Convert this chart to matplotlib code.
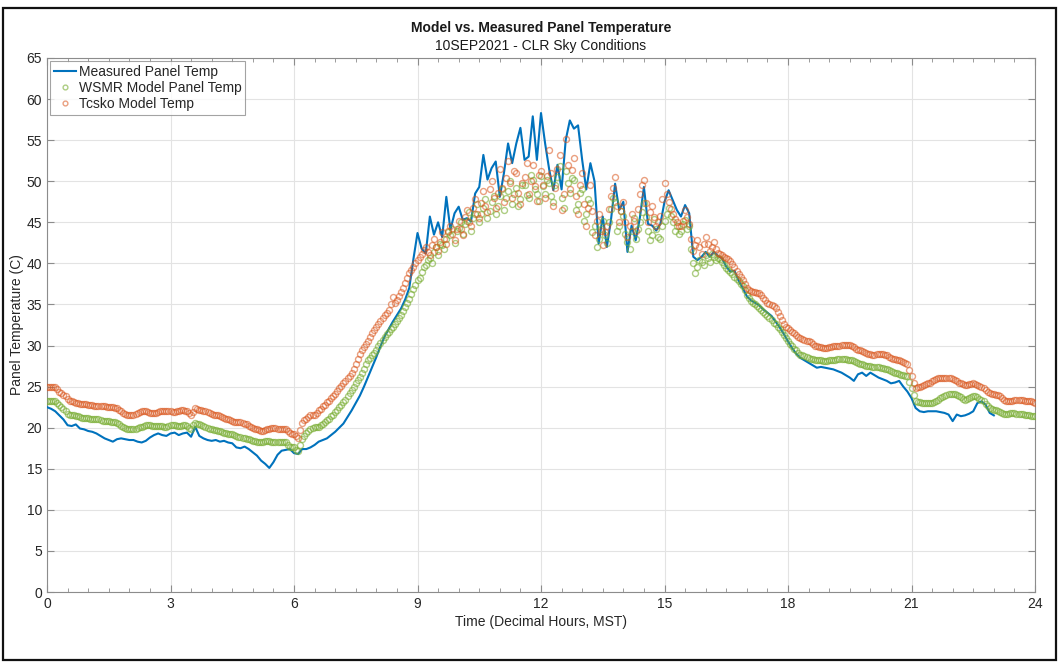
import numpy as np
import matplotlib
matplotlib.use("Agg")
import matplotlib.pyplot as plt
from matplotlib.patches import Rectangle
from matplotlib.ticker import MultipleLocator

plt.rcParams['font.family'] = ['Liberation Sans', 'DejaVu Sans']

# Measured panel temperature, one sample every 0.1 h from 0.0 to 23.0 h
measured_temp = [
    22.5, 22.3, 22.0, 21.5, 21.0, 20.3, 20.2, 20.4, 19.9, 19.8,
    19.6, 19.5, 19.3, 19.0, 18.7, 18.5, 18.3, 18.6, 18.7, 18.6,
    18.5, 18.5, 18.3, 18.2, 18.4, 18.8, 19.1, 19.3, 19.1, 19.0,
    19.3, 19.4, 19.1, 19.3, 19.4, 18.9, 20.1, 19.0, 18.7, 18.5,
    18.4, 18.5, 18.3, 18.4, 18.2, 18.1, 17.6, 17.5, 17.7, 17.4,
    17.0, 16.6, 16.0, 15.6, 15.1, 15.8, 16.7, 17.2, 17.3, 17.4,
    16.9, 16.8, 17.4, 17.4, 17.6, 17.9, 18.3, 18.5, 18.7, 19.1,
    19.5, 20.0, 20.5, 21.3, 22.1, 23.0, 23.9, 25.0, 26.2, 27.4,
    28.6, 29.9, 31.1, 32.0, 32.9, 33.7, 34.5, 35.6, 37.0, 40.5,
    43.7, 41.8, 41.2, 45.7, 43.5, 45.0, 43.2, 48.1, 44.1, 46.1,
    46.9, 45.3, 45.5, 45.1, 48.5, 49.3, 53.2, 50.2, 51.6, 52.4,
    48.1, 51.0, 54.6, 52.2, 54.6, 56.5, 52.6, 53.0, 57.9, 52.6,
    58.3, 54.6, 51.4, 48.9, 52.0, 49.0, 55.0, 57.4, 56.4, 56.8,
    52.6, 49.0, 52.2, 50.0, 42.4, 45.7, 42.0, 45.3, 49.7, 46.5,
    47.5, 41.4, 44.6, 42.8, 45.5, 49.3, 44.8, 44.6, 44.0, 44.8,
    47.5, 48.9, 47.7, 46.5, 45.7, 47.1, 46.1, 40.8, 40.4, 40.8,
    41.4, 40.8, 41.4, 40.9, 40.6, 39.6, 39.0, 39.1, 37.9, 37.0,
    36.0, 35.5, 35.2, 34.9, 34.4, 34.0, 33.6, 32.9, 32.2, 31.4,
    30.5, 29.7, 29.0, 28.5, 28.2, 27.9, 27.6, 27.3, 27.4, 27.3,
    27.2, 27.1, 26.9, 26.7, 26.4, 26.1, 25.7, 26.5, 26.7, 26.3,
    26.7, 26.4, 26.1, 25.9, 25.7, 25.4, 25.5, 25.7, 25.0, 24.4,
    23.6, 22.4, 22.0, 21.9, 22.0, 22.0, 22.0, 21.9, 21.8, 21.6,
    20.8, 21.6, 21.4, 21.5, 21.7, 22.0, 23.0, 23.2, 22.8, 21.8,
    21.5,
]

# WSMR model panel temperature, one sample every 0.05 h from 0.0 to 24.0 h
wsmr_temp = [
    23.3, 23.3, 23.3, 23.3, 23.2, 23.0, 22.8, 22.5, 22.3, 22.0, 21.7, 21.6, 21.5, 21.5, 21.4, 21.4, 21.3, 21.2, 21.2, 21.2,
    21.2, 21.1, 21.1, 21.0, 21.0, 21.0, 20.9, 20.8, 20.8, 20.8, 20.8, 20.7, 20.7, 20.7, 20.6, 20.4, 20.2, 20.1, 20.0, 19.9,
    19.8, 19.8, 19.9, 19.9, 20.0, 20.1, 20.1, 20.2, 20.3, 20.3, 20.3, 20.2, 20.2, 20.2, 20.2, 20.2, 20.2, 20.1, 20.1, 20.2,
    20.3, 20.3, 20.3, 20.2, 20.2, 20.2, 20.3, 20.3, 20.2, 20.0, 19.9, 20.3, 20.6, 20.5, 20.4, 20.3, 20.2, 20.1, 20.0, 19.9,
    19.8, 19.7, 19.7, 19.6, 19.6, 19.5, 19.4, 19.3, 19.2, 19.2, 19.2, 19.1, 19.0, 18.9, 18.9, 18.8, 18.7, 18.6, 18.6, 18.5,
    18.4, 18.4, 18.3, 18.3, 18.3, 18.3, 18.4, 18.4, 18.4, 18.3, 18.3, 18.3, 18.3, 18.2, 18.2, 18.2, 18.2, 17.9, 17.6, 17.6,
    17.6, 17.3, 17.2, 17.9, 18.6, 19.0, 19.3, 19.6, 19.9, 20.0, 20.1, 20.1, 20.1, 20.3, 20.5, 20.7, 20.9, 21.1, 21.4, 21.6,
    21.9, 22.2, 22.5, 22.8, 23.1, 23.4, 23.8, 24.2, 24.6, 25.0, 25.4, 25.8, 26.2, 26.7, 27.2, 27.7, 28.2, 28.5, 28.8, 29.1,
    29.4, 29.9, 30.3, 30.7, 31.1, 31.4, 31.7, 32.0, 32.3, 32.6, 33.0, 33.3, 33.7, 34.2, 34.7, 35.2, 35.7, 36.3, 36.9, 37.4,
    38.0, 38.2, 38.9, 39.5, 39.8, 40.4, 40.6, 40.0, 41.4, 42.0, 41.0, 42.4, 42.2, 41.8, 43.0, 43.8, 43.5, 44.2, 42.5, 43.9,
    44.3, 45.0, 43.6, 44.8, 45.2, 46.3, 44.0, 45.5, 46.0, 47.2, 45.0, 46.0, 46.8, 47.8, 45.5, 46.4, 47.5, 48.2, 46.0, 47.0,
    48.2, 49.0, 46.5, 48.0, 48.8, 50.0, 47.2, 48.4, 49.2, 47.0, 47.8, 49.6, 49.5, 48.3, 48.0, 50.8, 50.2, 49.0, 48.5, 47.6,
    50.6, 49.4, 48.5, 50.2, 49.8, 48.2, 47.5, 49.5, 50.5, 51.8, 48.0, 46.8, 51.3, 49.8, 48.6, 50.4, 50.2, 46.5, 47.2, 48.6,
    49.0, 45.2, 46.0, 47.8, 47.4, 43.8, 44.6, 42.0, 43.0, 44.2, 45.2, 43.4, 42.5, 45.0, 46.6, 48.0, 47.5, 44.0, 44.5, 46.4,
    45.8, 43.6, 42.6, 41.8, 44.0, 45.5, 43.0, 44.2, 45.0, 46.2, 47.4, 45.6, 44.0, 42.8, 43.5, 45.4, 44.2, 43.2, 43.0, 44.6,
    45.2, 46.0, 46.8, 45.8, 45.0, 44.0, 44.5, 43.6, 44.0, 44.8, 45.3, 44.2, 44.5, 41.8, 40.0, 38.8, 39.6, 40.4, 40.2, 39.8,
    41.0, 40.6, 40.2, 41.2, 40.8, 40.4, 40.7, 40.5, 40.2, 39.8, 39.4, 39.2, 39.0, 38.7, 38.4, 38.1, 37.8, 37.5, 37.2, 36.7,
    36.2, 35.8, 35.4, 35.2, 35.0, 34.8, 34.6, 34.3, 34.1, 33.8, 33.6, 33.3, 33.1, 32.8, 32.6, 32.3, 32.0, 31.6, 31.3, 30.9,
    30.6, 30.2, 29.9, 29.6, 29.4, 29.1, 28.9, 28.8, 28.7, 28.6, 28.5, 28.4, 28.4, 28.3, 28.3, 28.2, 28.2, 28.1, 28.1, 28.1,
    28.2, 28.2, 28.3, 28.3, 28.4, 28.4, 28.4, 28.4, 28.4, 28.3, 28.3, 28.2, 28.1, 28.0, 27.9, 27.8, 27.7, 27.6, 27.5, 27.5,
    27.5, 27.4, 27.4, 27.4, 27.4, 27.3, 27.3, 27.2, 27.1, 27.0, 26.9, 26.8, 26.7, 26.6, 26.5, 26.4, 26.4, 26.3, 26.3, 25.6,
    24.8, 24.0, 23.2, 23.1, 23.1, 23.0, 23.0, 23.0, 23.0, 23.0, 23.0, 23.1, 23.3, 23.4, 23.6, 23.7, 23.9, 24.0, 24.1, 24.1,
    24.1, 24.1, 24.0, 23.8, 23.7, 23.5, 23.4, 23.5, 23.6, 23.7, 23.8, 23.8, 23.7, 23.5, 23.4, 23.2, 22.9, 22.6, 22.4, 22.3,
    22.2, 22.1, 22.0, 21.9, 21.8, 21.7, 21.7, 21.7, 21.8, 21.8, 21.8, 21.7, 21.7, 21.7, 21.7, 21.6, 21.6, 21.5, 21.4, 21.4,
    21.4,
]

# Tcsko model panel temperature, one sample every 0.05 h from 0.0 to 24.0 h
tcsko_temp = [
    25.0, 25.0, 24.9, 24.9, 24.9, 24.7, 24.4, 24.2, 24.0, 23.8, 23.5, 23.3, 23.2, 23.1, 23.0, 23.0, 22.9, 22.9, 22.9, 22.9,
    22.8, 22.8, 22.8, 22.7, 22.7, 22.7, 22.6, 22.6, 22.6, 22.5, 22.5, 22.5, 22.5, 22.4, 22.4, 22.2, 22.0, 21.8, 21.7, 21.6,
    21.5, 21.5, 21.6, 21.7, 21.8, 21.9, 22.0, 22.0, 22.0, 21.9, 21.8, 21.8, 21.8, 21.8, 21.9, 22.0, 22.0, 22.0, 22.0, 22.0,
    22.0, 21.9, 21.9, 22.0, 22.0, 22.1, 22.1, 22.0, 22.0, 21.8, 21.5, 21.9, 22.4, 22.3, 22.2, 22.1, 22.0, 22.0, 21.9, 21.8,
    21.7, 21.6, 21.6, 21.5, 21.4, 21.3, 21.2, 21.1, 21.0, 20.9, 20.8, 20.7, 20.7, 20.7, 20.7, 20.6, 20.5, 20.4, 20.2, 20.1,
    20.0, 19.9, 19.8, 19.7, 19.6, 19.6, 19.7, 19.8, 19.9, 20.0, 20.0, 20.0, 19.9, 19.8, 19.8, 19.8, 19.9, 19.6, 19.3, 19.2,
    19.2, 19.0, 18.8, 19.7, 20.6, 20.9, 21.1, 21.3, 21.5, 21.5, 21.6, 21.8, 22.1, 22.3, 22.6, 22.8, 23.1, 23.3, 23.6, 23.8,
    24.1, 24.5, 24.8, 25.1, 25.4, 25.7, 26.0, 26.3, 26.6, 27.2, 27.8, 28.4, 29.0, 29.4, 29.8, 30.2, 30.6, 31.0, 31.5, 31.9,
    32.3, 32.6, 33.0, 33.3, 33.7, 34.0, 34.3, 35.0, 35.9, 35.2, 35.5, 36.0, 36.5, 37.0, 37.6, 38.2, 38.8, 39.2, 39.6, 40.0,
    40.4, 40.8, 41.2, 41.6, 42.0, 41.4, 41.0, 42.2, 43.0, 42.0, 41.5, 42.6, 43.8, 43.0, 42.4, 44.0, 44.5, 43.6, 42.8, 44.2,
    45.2, 44.2, 43.5, 45.6, 46.5, 45.0, 44.5, 46.8, 47.8, 46.0, 45.5, 47.4, 48.8, 47.0, 46.2, 49.0, 50.0, 48.0, 46.8, 48.6,
    51.5, 49.2, 47.5, 50.4, 52.5, 49.8, 48.0, 51.2, 51.0, 48.6, 47.2, 49.8, 50.5, 52.2, 48.5, 50.0, 52.0, 49.4, 47.6, 50.8,
    51.2, 49.6, 48.0, 50.6, 53.8, 51.0, 47.0, 49.2, 51.5, 53.2, 46.5, 48.4, 55.2, 52.0, 49.0, 51.4, 52.8, 48.2, 46.0, 49.6,
    51.0, 47.2, 44.5, 46.8, 49.5, 46.4, 43.5, 45.2, 46.0, 44.0, 42.2, 43.8, 44.5, 46.6, 48.2, 49.2, 50.5, 47.0, 45.0, 46.4,
    47.5, 45.0, 43.2, 44.6, 46.0, 45.2, 44.0, 46.6, 48.5, 49.6, 50.2, 47.4, 45.0, 46.2, 47.0, 45.6, 44.5, 45.0, 45.8, 47.8,
    49.8, 48.4, 47.5, 46.6, 46.0, 45.4, 45.0, 44.6, 44.5, 45.2, 46.5, 45.6, 44.8, 43.0, 41.5, 42.2, 42.8, 42.0, 41.2, 42.4,
    43.2, 42.4, 41.5, 42.0, 42.6, 41.8, 41.3, 41.2, 41.0, 40.8, 40.6, 40.5, 40.3, 39.9, 39.5, 39.1, 38.7, 38.3, 38.0, 37.5,
    37.0, 36.8, 36.6, 36.5, 36.5, 36.4, 36.4, 36.1, 35.8, 35.5, 35.2, 35.0, 34.9, 34.8, 34.6, 34.1, 33.6, 33.1, 32.6, 32.3,
    32.1, 31.9, 31.7, 31.5, 31.3, 31.1, 30.9, 30.8, 30.7, 30.6, 30.6, 30.4, 30.2, 30.0, 29.9, 29.8, 29.8, 29.7, 29.7, 29.7,
    29.8, 29.8, 29.9, 30.0, 30.0, 30.0, 30.1, 30.1, 30.1, 30.1, 30.1, 30.0, 29.8, 29.6, 29.5, 29.4, 29.3, 29.2, 29.1, 29.0,
    29.0, 28.9, 28.9, 29.0, 29.0, 29.0, 29.0, 28.9, 28.8, 28.6, 28.5, 28.4, 28.4, 28.3, 28.2, 28.1, 28.0, 27.9, 27.7, 27.0,
    26.3, 25.5, 24.8, 24.9, 25.0, 25.1, 25.2, 25.3, 25.4, 25.5, 25.7, 25.8, 25.9, 26.0, 26.1, 26.1, 26.1, 26.1, 26.1, 26.0,
    25.9, 25.8, 25.7, 25.5, 25.4, 25.3, 25.2, 25.2, 25.3, 25.3, 25.4, 25.3, 25.2, 25.1, 25.0, 24.8, 24.6, 24.4, 24.2, 24.1,
    24.1, 24.0, 24.0, 23.8, 23.6, 23.4, 23.2, 23.2, 23.3, 23.3, 23.4, 23.4, 23.4, 23.4, 23.4, 23.3, 23.3, 23.2, 23.2, 23.1,
    23.0,
]

x_ticks = [0, 3, 6, 9, 12, 15, 18, 21, 24]
y_ticks = list(range(0, 70, 5))

measured_hours = np.round(np.arange(len(measured_temp)) * 0.1, 2)
model_hours = np.round(np.arange(len(wsmr_temp)) * 0.05, 3)

W, H = 1061, 668
fig = plt.figure(figsize=(W / 100, H / 100), dpi=100)
fig.patch.set_facecolor('white')

# outer frame around the figure
fig.patches.append(Rectangle((3 / W, 8 / H), 1053 / W, 652 / H,
                             transform=fig.transFigure, fill=False,
                             edgecolor='#111111', linewidth=1.6))

ax = fig.add_axes([47 / W, (H - 592) / H, (1035 - 47) / W, (592 - 58) / H])

ax.plot(measured_hours, measured_temp, color='#0072BD', linewidth=1.5,
        label='Measured Panel Temp', zorder=3)
ax.plot(model_hours, wsmr_temp, linestyle='none', marker='o', markersize=4.3,
        markerfacecolor='none', markeredgecolor='#77AC30', markeredgewidth=1.0,
        alpha=0.6, label='WSMR Model Panel Temp', zorder=4)
ax.plot(model_hours, tcsko_temp, linestyle='none', marker='o', markersize=4.3,
        markerfacecolor='none', markeredgecolor='#D95319', markeredgewidth=1.0,
        alpha=0.55, label='Tcsko Model Temp', zorder=5)

ax.set_xlim(0, 24)
ax.set_ylim(0, 65)
ax.set_xticks(x_ticks)
ax.set_yticks(y_ticks)
ax.xaxis.set_minor_locator(MultipleLocator(0.5))
ax.grid(True, which='major', color='#e3e3e3', linewidth=0.8)
ax.set_axisbelow(True)

axis_gray = '#262626'
for side in ax.spines.values():
    side.set_color('#8c8c8c')
    side.set_linewidth(0.8)
ax.tick_params(which='both', direction='in', top=True, right=True,
               colors='#8c8c8c', labelcolor=axis_gray, labelsize=10)
ax.tick_params(which='major', length=5)
ax.tick_params(which='minor', length=3)

ax.set_xlabel('Time (Decimal Hours, MST)', fontsize=10, color=axis_gray, labelpad=3)
ax.set_ylabel('Panel Temperature (C)', fontsize=10, color=axis_gray, labelpad=2)

leg = ax.legend(loc='upper left', fontsize=10, frameon=True, fancybox=False,
                borderaxespad=0.25, handlelength=1.6, handletextpad=0.2,
                borderpad=0.25, labelspacing=0.15, markerscale=0.8)
leg.get_frame().set_edgecolor('#8c8c8c')
leg.get_frame().set_linewidth(0.8)
for t in leg.get_texts():
    t.set_color(axis_gray)

fig.text(541 / W, 1 - 28 / H, 'Model vs. Measured Panel Temperature',
         ha='center', va='center', fontsize=10, fontweight='bold', color='#1a1a1a')
fig.text(541 / W, 1 - 46 / H, '10SEP2021 - CLR Sky Conditions',
         ha='center', va='center', fontsize=10, color='#1a1a1a')

fig.savefig('out.png', dpi=100, facecolor='white')
